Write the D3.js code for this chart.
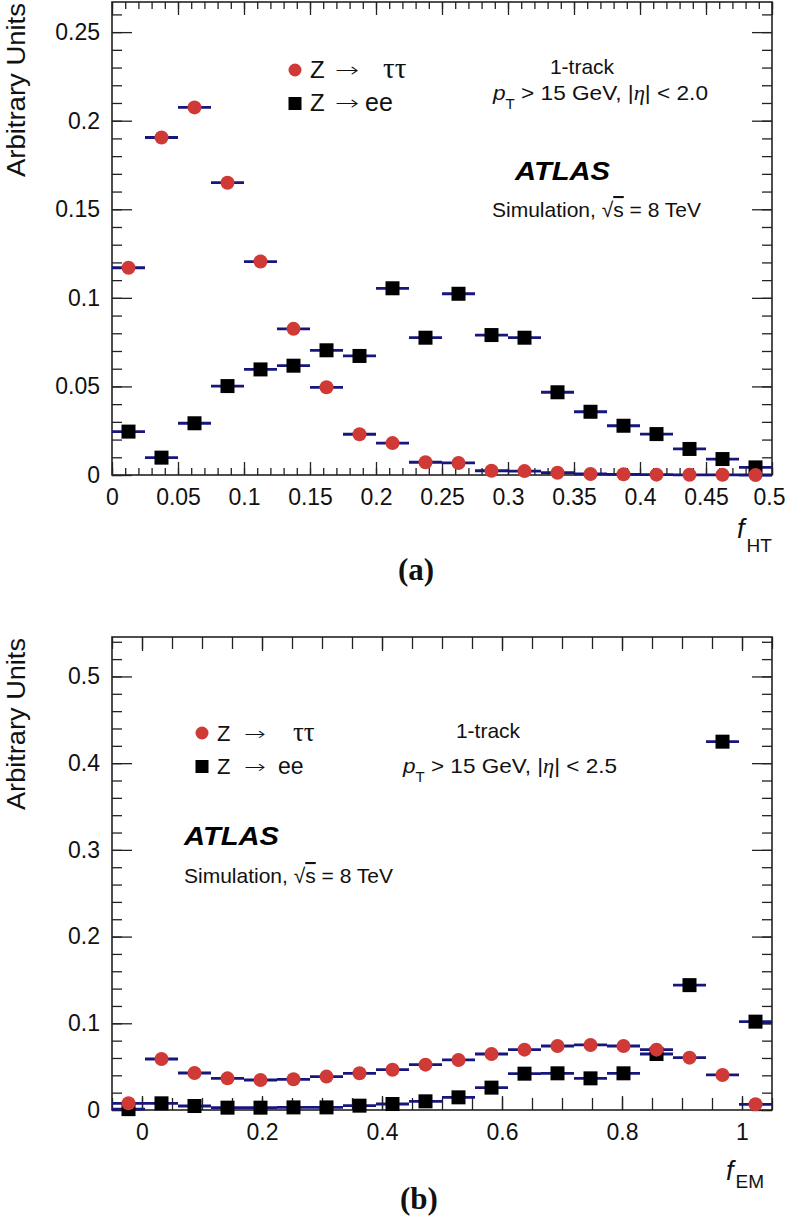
<!DOCTYPE html>
<html>
<head>
<meta charset="utf-8">
<script src="https://cdn.jsdelivr.net/npm/d3@7/dist/d3.min.js"></script>
<style>
  body { margin: 0; background: #fff; }
  svg { display: block; font-family: "Liberation Sans", Arial, sans-serif; }
</style>
</head>
<body>
<div id="chart"></div>
<script>
'use strict';

// ---- panel (a) : f_HT ----
var htBins = [0.0125, 0.0375, 0.0625, 0.0875, 0.1125, 0.1375, 0.1625, 0.1875, 0.2125, 0.2375,
              0.2625, 0.2875, 0.3125, 0.3375, 0.3625, 0.3875, 0.4125, 0.4375, 0.4625, 0.4875];
var htTau = [0.117, 0.1905, 0.2075, 0.165, 0.1205, 0.0825, 0.0495, 0.023, 0.018, 0.0072,
             0.0068, 0.0024, 0.0022, 0.0013, 0.0006, 0.0004, 0.0002, 0.0001, 0.0001, 0.0];
var htEe = [0.0245, 0.0098, 0.0292, 0.0502, 0.0596, 0.0617, 0.0704, 0.0672, 0.1054, 0.0775,
            0.1023, 0.079, 0.0775, 0.0467, 0.0357, 0.0278, 0.0231, 0.0147, 0.009, 0.0043];
var htXTicks = [0, 0.05, 0.1, 0.15, 0.2, 0.25, 0.3, 0.35, 0.4, 0.45, 0.5];
var htXLabels = ['0', '0.05', '0.1', '0.15', '0.2', '0.25', '0.3', '0.35', '0.4', '0.45', '0.5'];
var htYTicks = [0, 0.05, 0.1, 0.15, 0.2, 0.25];
var htYLabels = ['0', '0.05', '0.1', '0.15', '0.2', '0.25'];

// ---- panel (b) : f_EM ----
var emBins = [-0.0225, 0.0325, 0.0875, 0.1425, 0.1975, 0.2525, 0.3075, 0.3625, 0.4175, 0.4725,
              0.5275, 0.5825, 0.6375, 0.6925, 0.7475, 0.8025, 0.8575, 0.9125, 0.9675, 1.0225];
var emTau = [0.0077, 0.0588, 0.0427, 0.0365, 0.0346, 0.0354, 0.0385, 0.0423, 0.0465, 0.0523,
             0.0577, 0.0646, 0.0696, 0.0738, 0.075, 0.0738, 0.0696, 0.0604, 0.0404, 0.0066];
var emEe = [0.001, 0.0077, 0.0046, 0.0027, 0.0027, 0.003, 0.003, 0.005, 0.0069, 0.01,
            0.0146, 0.0258, 0.0419, 0.0423, 0.0365, 0.0423, 0.0646, 0.144, 0.4248, 0.1019];
var emXTicks = [0, 0.2, 0.4, 0.6, 0.8, 1];
var emXLabels = ['0', '0.2', '0.4', '0.6', '0.8', '1'];
var emYTicks = [0, 0.1, 0.2, 0.3, 0.4, 0.5];
var emYLabels = ['0', '0.1', '0.2', '0.3', '0.4', '0.5'];

var RED = '#cf3a36';
var ERR = '#16167c';
var AXIS = '#222';

var svg = d3.select('#chart').append('svg')
  .attr('width', 786)
  .attr('height', 1221);

function steps(lo, hi, step) {
  return d3.range(Math.ceil(lo / step - 1e-9), Math.floor(hi / step + 1e-9) + 1)
    .map(function (i) { return +(i * step).toFixed(4); });
}

function drawPanel(p) {
  var x = d3.scaleLinear().domain(p.xDomain).range([p.left, p.right]);
  var y = d3.scaleLinear().domain(p.yDomain).range([p.bottom, p.top]);
  var g = svg.append('g');

  var minorX = steps(p.xDomain[0], p.xDomain[1], p.xMinorStep);
  var minorY = steps(p.yDomain[0], p.yDomain[1], p.yMinorStep);

  // x axes (bottom with labels, top mirrored)
  g.append('g').attr('transform', 'translate(0,' + p.bottom + ')')
    .call(d3.axisBottom(x).tickValues(minorX).tickFormat('').tickSize(-p.xMinorLen));
  var xl = g.append('g').attr('transform', 'translate(0,' + p.bottom + ')')
    .attr('class', 'lab')
    .call(d3.axisBottom(x).tickValues(p.xTicks)
      .tickFormat(function (d, i) { return p.xLabels[i]; })
      .tickSize(-p.xMajorLen).tickPadding(14));
  g.append('g').attr('transform', 'translate(0,' + p.top + ')')
    .call(d3.axisTop(x).tickValues(minorX).tickFormat('').tickSize(-p.xMinorLen));
  g.append('g').attr('transform', 'translate(0,' + p.top + ')')
    .call(d3.axisTop(x).tickValues(p.xTicks).tickFormat('').tickSize(-p.xMajorLen));

  // y axes
  g.append('g').attr('transform', 'translate(' + p.left + ',0)')
    .call(d3.axisLeft(y).tickValues(minorY).tickFormat('').tickSize(-10));
  g.append('g').attr('transform', 'translate(' + p.left + ',0)')
    .attr('class', 'lab')
    .call(d3.axisLeft(y).tickValues(p.yTicks)
      .tickFormat(function (d, i) { return p.yLabels[i]; })
      .tickSize(-20).tickPadding(12));
  g.append('g').attr('transform', 'translate(' + p.right + ',0)')
    .call(d3.axisRight(y).tickValues(minorY).tickFormat('').tickSize(-10));
  g.append('g').attr('transform', 'translate(' + p.right + ',0)')
    .call(d3.axisRight(y).tickValues(p.yTicks).tickFormat('').tickSize(-20));

  g.selectAll('.domain').remove();
  g.selectAll('.tick line').attr('stroke', AXIS).attr('stroke-width', 1.3);
  g.selectAll('.lab text')
    .attr('fill', '#111')
    .style('font-size', '23px')
    .style('font-family', '"Liberation Sans", Arial, sans-serif');
  // keep the last x label inside the page
  if (p.lastLabelDx) {
    xl.selectAll('.tick:last-of-type text').attr('dx', p.lastLabelDx);
  }

  g.append('rect')
    .attr('x', p.left).attr('y', p.top)
    .attr('width', p.right - p.left).attr('height', p.bottom - p.top)
    .attr('fill', 'none').attr('stroke', AXIS).attr('stroke-width', 1.6);

  // data : ee first, tau drawn on top
  var ee = p.bins.map(function (b, i) { return { x: b, v: p.ee[i] }; });
  var tau = p.bins.map(function (b, i) { return { x: b, v: p.tau[i] }; });

  function errBars(data, cls) {
    g.selectAll('line.' + cls).data(data).enter().append('line')
      .attr('class', cls)
      .attr('x1', function (d) { return x(d.x - p.binW / 2); })
      .attr('x2', function (d) { return x(d.x + p.binW / 2); })
      .attr('y1', function (d) { return y(d.v); })
      .attr('y2', function (d) { return y(d.v); })
      .attr('stroke', ERR).attr('stroke-width', 2.8);
  }

  errBars(ee, 'eeErr');
  g.selectAll('rect.ee').data(ee).enter().append('rect')
    .attr('class', 'ee')
    .attr('x', function (d) { return x(d.x) - 7; })
    .attr('y', function (d) { return y(d.v) - 7; })
    .attr('width', 14).attr('height', 14)
    .attr('fill', '#000');

  errBars(tau, 'tauErr');
  g.selectAll('circle.tau').data(tau).enter().append('circle')
    .attr('class', 'tau')
    .attr('cx', function (d) { return x(d.x); })
    .attr('cy', function (d) { return y(d.v); })
    .attr('r', 7)
    .attr('fill', RED);

  // y title
  g.append('text')
    .attr('transform', 'translate(25,' + p.titleY + ') rotate(-90)')
    .attr('textLength', p.titleLen)
    .attr('lengthAdjust', 'spacingAndGlyphs')
    .style('font-size', '25px')
    .attr('fill', '#111')
    .text('Arbitrary Units');

  // x title  f_sub
  var xt = g.append('text').attr('x', p.xtX).attr('y', p.xtY).attr('fill', '#111');
  xt.append('tspan').style('font-style', 'italic').style('font-size', '27px').text('f');
  xt.append('tspan').attr('dx', 2).attr('dy', p.xtSubDy).style('font-size', '19px').text(p.xtSub);

  // panel tag
  g.append('text')
    .attr('x', p.tagX).attr('y', p.tagY)
    .style('font-family', '"Liberation Serif", "Times New Roman", serif')
    .style('font-weight', 'bold').style('font-size', '31px')
    .attr('fill', '#111')
    .text(p.tag);

  // legend
  var lg = p.legend;
  g.append('circle').attr('cx', lg.mx).attr('cy', lg.y1 - 8).attr('r', 6.5).attr('fill', RED);
  g.append('rect').attr('x', lg.mx - 6.5).attr('y', lg.y2 - 14).attr('width', 13).attr('height', 13).attr('fill', '#000');
  [[lg.y1, 'ττ', lg.tauX], [lg.y2, 'ee', lg.eeX]].forEach(function (r, i) {
    var t = g.append('g').style('font-size', lg.fs + 'px').attr('fill', '#111');
    t.append('text').attr('x', lg.zX).attr('y', r[0]).text('Z');
    // long thin arrow, stretched horizontally
    t.append('text')
      .attr('transform', 'translate(' + lg.arX + ',' + (r[0] - 1) + ') scale(1.45,1)')
      .style('font-family', '"DejaVu Sans", sans-serif')
      .style('font-weight', 300)
      .style('font-size', (lg.fs - 4) + 'px')
      .text('→');
    t.append('text').attr('x', r[2]).attr('y', r[0])
      .style('font-family', i === 0 ? '"Liberation Serif", serif' : null)
      .style('font-size', i === 0 ? (lg.fs + 5) + 'px' : (lg.fs + 1) + 'px')
      .text(r[1]);
  });

  // info texts
  var it = p.info;
  g.append('text').attr('x', it.trackX).attr('y', it.trackY)
    .attr('text-anchor', 'middle').style('font-size', '21px').attr('fill', '#111')
    .text('1-track');

  var pt = g.append('text').attr('x', it.ptX).attr('y', it.ptY)
    .attr('textLength', it.ptW).attr('lengthAdjust', 'spacingAndGlyphs')
    .style('font-size', '21px').attr('fill', '#111');
  pt.append('tspan').style('font-style', 'italic').text('p');
  pt.append('tspan').attr('dy', 9).style('font-size', '14px').text('T');
  pt.append('tspan').attr('dy', -9).text(' > 15 GeV, |');
  pt.append('tspan').style('font-style', 'italic')
    .style('font-family', '"Liberation Serif", serif').text('η');
  pt.append('tspan').text('| < ' + it.eta);

  g.append('text').attr('x', it.atlasX).attr('y', it.atlasY)
    .attr('textLength', 95).attr('lengthAdjust', 'spacingAndGlyphs')
    .style('font-size', '26px').style('font-weight', 'bold').style('font-style', 'italic')
    .attr('fill', '#000')
    .text('ATLAS');

  var sim = g.append('text').attr('x', it.simX).attr('y', it.simY)
    .style('font-size', '21px').attr('fill', '#111');
  sim.append('tspan').text(it.simText);
  sim.append('tspan').text('√');
  sim.append('tspan').style('text-decoration', 'overline').text('s');
  sim.append('tspan').text(' = 8 TeV');
}

drawPanel({
  left: 112, right: 772, top: 2, bottom: 475,
  xDomain: [0, 0.5], yDomain: [0, 0.267],
  xTicks: htXTicks, xLabels: htXLabels, yTicks: htYTicks, yLabels: htYLabels,
  xMinorStep: 0.01, yMinorStep: 0.01, xMajorLen: 13, xMinorLen: 7, lastLabelDx: -3,
  bins: htBins, binW: 0.025, tau: htTau, ee: htEe,
  titleY: 177, titleLen: 174,
  xtX: 737, xtY: 538, xtSub: 'HT', xtSubDy: 14,
  tag: '(a)', tagX: 398, tagY: 580,
  legend: { mx: 295, y1: 78, y2: 111, zX: 310, arX: 335, tauX: 383, eeX: 365, fs: 24 },
  info: { trackX: 582, trackY: 74, ptX: 493, ptY: 100, ptW: 215, eta: '2.0',
          atlasX: 515, atlasY: 180, simX: 492, simY: 217, simText: 'Simulation, ' }
});

drawPanel({
  left: 112, right: 772, top: 637, bottom: 1110,
  xDomain: [-0.05, 1.05], yDomain: [0, 0.5455],
  xTicks: emXTicks, xLabels: emXLabels, yTicks: emYTicks, yLabels: emYLabels,
  xMinorStep: 0.05, yMinorStep: 0.02, xMajorLen: 14, xMinorLen: 12,
  bins: emBins, binW: 0.055, tau: emTau, ee: emEe,
  titleY: 810, titleLen: 172,
  xtX: 726, xtY: 1180, xtSub: 'EM', xtSubDy: 8,
  tag: '(b)', tagX: 400, tagY: 1209,
  legend: { mx: 202, y1: 741, y2: 774, zX: 217, arX: 244, tauX: 293, eeX: 278, fs: 22 },
  info: { trackX: 488, trackY: 738, ptX: 403, ptY: 773, ptW: 214, eta: '2.5',
          atlasX: 184, atlasY: 845, simX: 184, simY: 883, simText: 'Simulation,   ' }
});
</script>
</body>
</html>
